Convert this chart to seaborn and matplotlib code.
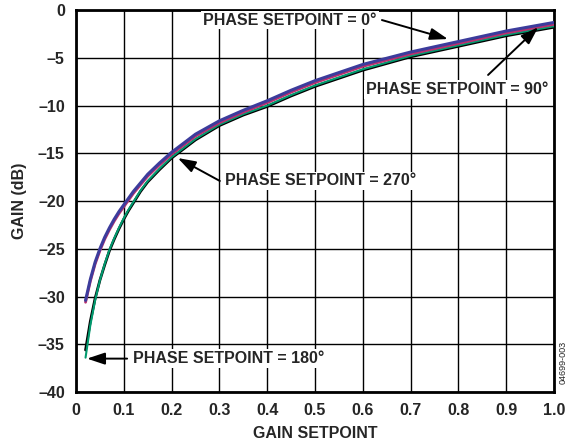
import matplotlib
matplotlib.use("Agg")
import matplotlib.pyplot as plt
import seaborn as sns
import pandas as pd

# ---- data ----
gain_setpoint = [0.02, 0.03, 0.04, 0.05, 0.06, 0.07, 0.08, 0.09, 0.10, 0.11,
                 0.12, 0.135, 0.15, 0.175, 0.20, 0.25, 0.30, 0.35, 0.40, 0.45,
                 0.50, 0.60, 0.70, 0.80, 0.90, 1.00]
gain_0 = [-30.4, -28.2, -26.4, -25.0, -23.8, -22.8, -21.9, -21.1, -20.4, -19.7,
          -19.0, -18.1, -17.2, -16.0, -14.9, -13.0, -11.6, -10.5, -9.5, -8.4,
          -7.4, -5.7, -4.4, -3.3, -2.2, -1.3]
gain_90 = [-30.6, -28.4, -26.6, -25.2, -24.0, -23.0, -22.1, -21.3, -20.6, -19.9,
           -19.2, -18.3, -17.4, -16.2, -15.1, -13.2, -11.8, -10.7, -9.7, -8.6,
           -7.6, -5.9, -4.6, -3.5, -2.4, -1.5]
gain_180 = [-36.4, -33.0, -30.4, -28.3, -26.6, -25.1, -23.9, -22.8, -21.8, -20.9,
            -20.1, -18.9, -17.9, -16.6, -15.4, -13.5, -12.0, -10.9, -10.0, -8.9,
            -7.9, -6.2, -4.8, -3.7, -2.6, -1.7]
gain_270 = [-35.6, -32.6, -30.2, -28.3, -26.7, -25.2, -24.0, -22.9, -21.9, -21.0,
            -20.2, -19.0, -18.0, -16.7, -15.5, -13.6, -12.1, -11.0, -10.1, -9.0,
            -8.0, -6.3, -4.9, -3.8, -2.7, -1.8]
x_ticks = [0, 0.1, 0.2, 0.3, 0.4, 0.5, 0.6, 0.7, 0.8, 0.9, 1.0]
x_tick_labels = ["0", "0.1", "0.2", "0.3", "0.4", "0.5", "0.6", "0.7", "0.8", "0.9", "1.0"]
y_ticks = [0, -5, -10, -15, -20, -25, -30, -35, -40]
y_tick_labels = ["0", "–5", "–10", "–15", "–20", "–25", "–30", "–35", "–40"]

sns.set_theme(style="white")
plt.rcParams['font.family'] = ['Liberation Sans', 'DejaVu Sans']

FS = 11.5
fig = plt.figure(figsize=(5.7, 4.45), dpi=100)
ax = fig.add_axes([0.1333, 0.119, 0.8387, 0.8585])

series = [
    (gain_270, "#000000", 2.0),
    (gain_180, "#009a6e", 1.5),
    (gain_90, "#b8306e", 2.0),
    (gain_0, "#3c3c9c", 2.2),
]
for ys, col, lw in series:
    df = pd.DataFrame({"x": gain_setpoint, "y": ys})
    sns.lineplot(data=df, x="x", y="y", ax=ax, color=col, linewidth=lw,
                 zorder=3, estimator=None, sort=False)

ax.set_xlim(0, 1.0)
ax.set_ylim(-40, 0)
ax.set_xticks(x_ticks)
ax.set_xticklabels(x_tick_labels)
ax.set_yticks(y_ticks)
ax.set_yticklabels(y_tick_labels)
ax.tick_params(length=0, labelsize=FS, pad=8)
for lab in ax.get_xticklabels() + ax.get_yticklabels():
    lab.set_fontweight("bold")
ax.grid(True, color="black", linewidth=1.0)
ax.set_axisbelow(True)
for s in ax.spines.values():
    s.set_color("black")
    s.set_linewidth(2.0)

ax.set_xlabel("GAIN SETPOINT", fontsize=FS, fontweight="bold", labelpad=6)
ax.set_ylabel("GAIN (dB)", fontsize=FS, fontweight="bold", labelpad=8)

bbox = dict(boxstyle="square,pad=0.12", fc="white", ec="none")
arrow = dict(arrowstyle="-|>,head_length=0.9,head_width=0.3", color="black",
             lw=1.4, shrinkA=0, shrinkB=0)

labels = [
    ("PHASE SETPOINT = 0°", (0.266, -1.05), (0.640, -1.05), (0.778, -3.04)),
    ("PHASE SETPOINT = 90°", (0.607, -8.3), (0.862, -6.8), (0.967, -1.8)),
    ("PHASE SETPOINT = 270°", (0.312, -17.9), (0.301, -17.9), (0.213, -15.5)),
    ("PHASE SETPOINT = 180°", (0.119, -36.5), (0.107, -36.5), (0.023, -36.5)),
]
for text, tpos, tail, head in labels:
    ax.text(tpos[0], tpos[1], text, fontsize=FS, fontweight="bold",
            ha="left", va="center", bbox=bbox, zorder=5)
    ax.annotate("", xy=head, xytext=tail, arrowprops=arrow, zorder=6)

fig.text(0.988, 0.185, "04699-003", rotation=90, fontsize=6.5,
         ha="center", va="center")

fig.savefig("out.png", dpi=100)
